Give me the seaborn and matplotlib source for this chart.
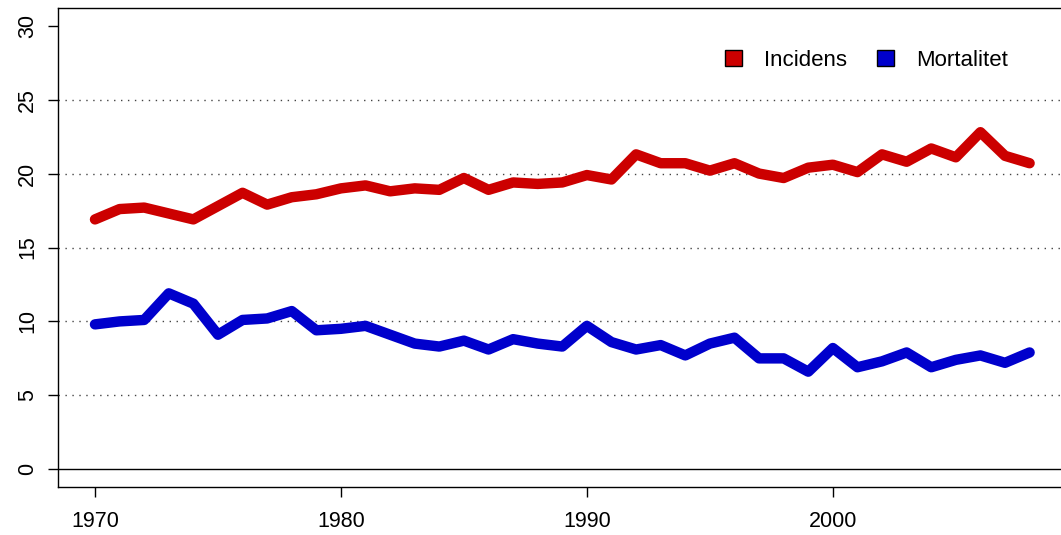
import matplotlib
matplotlib.use("Agg")
import matplotlib.pyplot as plt
from matplotlib.patches import Patch
import seaborn as sns
import pandas as pd

years = list(range(1970, 2009))
incidens = [16.9, 17.6, 17.7, 17.3, 16.9, 17.8, 18.7, 17.9, 18.4, 18.6,
            19.0, 19.2, 18.8, 19.0, 18.9, 19.7, 18.9, 19.4, 19.3, 19.4,
            19.9, 19.6, 21.3, 20.7, 20.7, 20.2, 20.7, 20.0, 19.7, 20.4,
            20.6, 20.1, 21.3, 20.8, 21.7, 21.1, 22.8, 21.2, 20.7]
mortalitet = [9.8, 10.0, 10.1, 11.9, 11.2, 9.1, 10.1, 10.2, 10.7, 9.4,
              9.5, 9.7, 9.1, 8.5, 8.3, 8.7, 8.1, 8.8, 8.5, 8.3,
              9.7, 8.6, 8.1, 8.4, 7.7, 8.5, 8.9, 7.5, 7.5, 6.6,
              8.2, 6.9, 7.3, 7.9, 6.9, 7.4, 7.7, 7.2, 7.9]
series_names = ["Incidens", "Mortalitet"]
colors = ["#CC0000", "#0000CC"]
xticks = [1970, 1980, 1990, 2000]
yticks = [0, 5, 10, 15, 20, 25, 30]

df = pd.DataFrame({
    "year": years * 2,
    "value": incidens + mortalitet,
    "serie": [series_names[0]] * len(years) + [series_names[1]] * len(years),
})

sns.set_style("white")
plt.rcParams["font.family"] = ["Liberation Sans", "DejaVu Sans"]
plt.rcParams["text.color"] = "black"
plt.rcParams["xtick.color"] = "black"
plt.rcParams["ytick.color"] = "black"
plt.rcParams["axes.labelcolor"] = "black"

fig = plt.figure(figsize=(10.61, 5.35), dpi=100)
ax = fig.add_axes([57.6 / 1061, 1 - 487 / 535, (1067 - 57.6) / 1061, (487 - 8) / 535])

# dotted reference lines + solid zero line
for y in yticks[1:-1]:
    ax.axhline(y, color="#444444", lw=1.0, linestyle=(0, (1, 4)), zorder=1)
ax.axhline(0, color="black", lw=1.0, zorder=1)

sns.lineplot(data=df, x="year", y="value", hue="serie", palette=colors,
             hue_order=series_names, lw=7.5, ax=ax, legend=False,
             solid_capstyle="round", solid_joinstyle="round", zorder=3)

ax.set_xlim(1968.48, 2009.52)
ax.set_ylim(-1.2, 31.2)
ax.set_xticks(xticks)
ax.set_yticks(yticks)
ax.set_xlabel("")
ax.set_ylabel("")
ax.tick_params(axis="both", direction="out", length=7, width=1, colors="black",
               labelsize=15.5, bottom=True, left=True)
ax.tick_params(axis="x", pad=10)
ax.tick_params(axis="y", pad=7)
for lbl in ax.get_yticklabels():
    lbl.set_rotation(90)
    lbl.set_va("center")

for side in ["left", "top", "bottom", "right"]:
    ax.spines[side].set_visible(True)
    ax.spines[side].set_color("black")
    ax.spines[side].set_linewidth(1.0)

handles = [Patch(facecolor=c, edgecolor="black", lw=1) for c in colors]
fig.legend(handles, series_names, loc="center right",
           bbox_to_anchor=(1008 / 1061, 1 - 60 / 535), ncol=2, frameon=False,
           fontsize=16, handlelength=0.75, handleheight=0.75,
           handletextpad=1.0, columnspacing=1.35, borderpad=0, borderaxespad=0,
           labelcolor="black")

fig.savefig("out.png", dpi=100)
